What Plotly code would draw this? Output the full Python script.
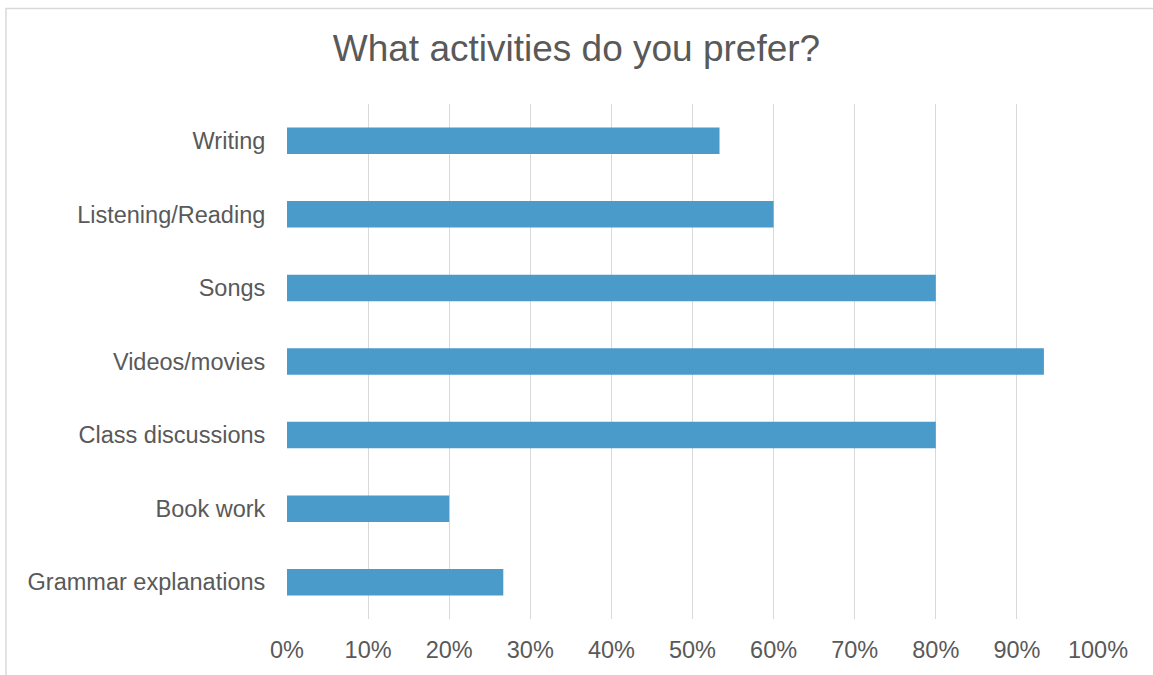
import plotly.graph_objects as go

categories = ["Grammar explanations", "Book work", "Class discussions", "Videos/movies",
              "Songs", "Listening/Reading", "Writing"]
values = [0.2667, 0.20, 0.80, 0.9333, 0.80, 0.60, 0.5333]
tick_vals = [0, 0.1, 0.2, 0.3, 0.4, 0.5, 0.6, 0.7, 0.8, 0.9, 1.0]
tick_text = ["0%", "10%", "20%", "30%", "40%", "50%", "60%", "70%", "80%", "90%", "100%"]

W, H = 1153, 675
L, R, T, B = 287, 55, 104, 53
pw, ph = W - L - R, H - T - B

fig = go.Figure(go.Bar(
    x=values, y=categories, orientation="h",
    marker=dict(color="#4A9BCA", line=dict(width=0)),
    hoverinfo="x+y",
))

fig.update_layout(
    width=W, height=H,
    margin=dict(l=L, r=R, t=T, b=B),
    paper_bgcolor="white", plot_bgcolor="white",
    font=dict(family="Liberation Sans, Arial, sans-serif", color="#595959", size=23.5),
    title=dict(text="What activities do you prefer?", x=0.5, xanchor="center",
               y=1 - 48 / H, yanchor="middle",
               font=dict(size=37, color="#595959")),
    bargap=0.64,
    showlegend=False,
    xaxis=dict(range=[0, 1], tickvals=tick_vals, ticktext=tick_text,
               showgrid=True, gridcolor="#D9D9D9", gridwidth=1,
               zeroline=False, showline=False, ticks="outside", ticklen=10,
               tickcolor="rgba(0,0,0,0)", fixedrange=True),
    yaxis=dict(showgrid=False, zeroline=False, showline=False,
               ticks="outside", ticklen=16, tickcolor="rgba(0,0,0,0)",
               fixedrange=True),
    shapes=[dict(type="rect", xref="paper", yref="paper",
                 x0=(6 - L) / pw, x1=(W + 20 - L) / pw,
                 y0=-(B + 20) / ph, y1=(H - B - 8) / ph,
                 line=dict(color="#D9D9D9", width=1.5), fillcolor="rgba(0,0,0,0)",
                 layer="below")],
)

fig.write_html("out.html", config={"displayModeBar": False},
               post_script="document.body.style.margin='0';document.body.style.overflow='hidden';")
